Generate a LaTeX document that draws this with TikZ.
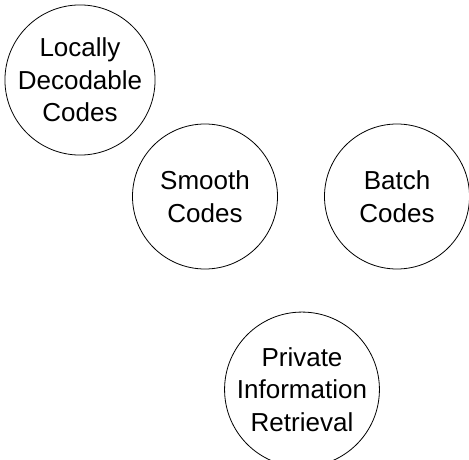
\documentclass[tikz,border=0pt]{standalone}
\usepackage{fontspec}
\setmainfont{Liberation Sans}
\begin{document}
\begin{tikzpicture}[x=1pt,y=-1pt,
  topic/.style={circle,draw=black,line width=0.8pt,minimum size=145pt,inner sep=0pt,
    align=center,font=\fontsize{26}{32.5}\selectfont}]
\useasboundingbox (0,0) rectangle (469,460);
\clip (0,0) rectangle (469,460);
\node[topic] (ldc) at (80,80) {Locally\\Decodable\\Codes};
\node[topic] (smooth) at (205,196.5) {Smooth\\Codes};
\node[topic] (batch) at (397,196.5) {Batch\\Codes};
\node[topic] (pir) at (302,389.5) {Private\\Information\\Retrieval};
\end{tikzpicture}
\end{document}
